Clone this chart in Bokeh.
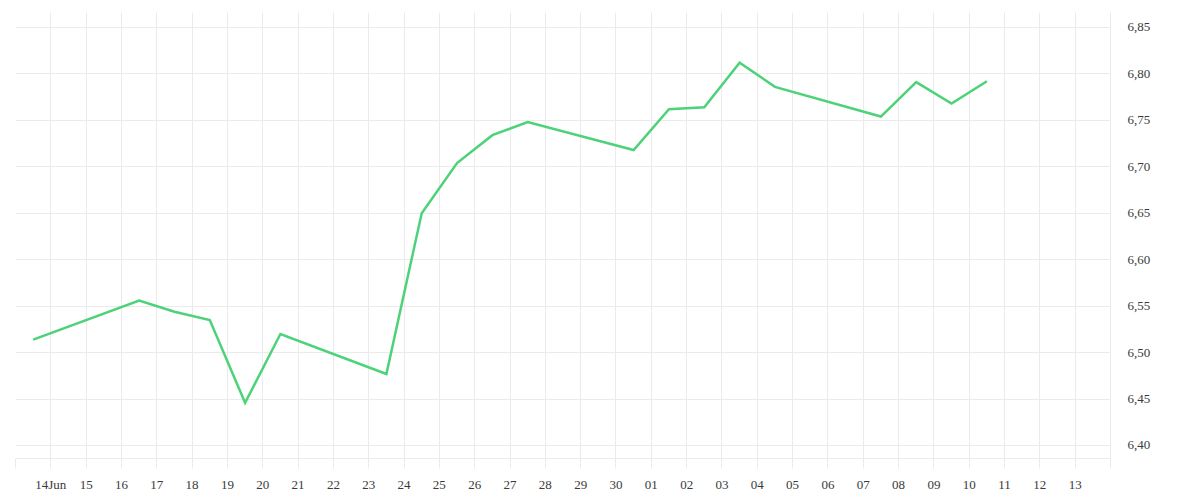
from datetime import datetime, timedelta
from bokeh.plotting import figure
from bokeh.models import FixedTicker, CustomJSTickFormatter, Range1d, ColumnDataSource
from bokeh.embed import file_html
from bokeh.resources import INLINE

# ---- data ----
dates = [
    "2025-06-13 12:00", "2025-06-16 12:00", "2025-06-17 12:00", "2025-06-18 12:00",
    "2025-06-19 12:00", "2025-06-20 12:00", "2025-06-23 12:00", "2025-06-24 12:00",
    "2025-06-25 12:00", "2025-06-26 12:00", "2025-06-27 12:00", "2025-06-30 12:00",
    "2025-07-01 12:00", "2025-07-02 12:00", "2025-07-03 12:00", "2025-07-04 12:00",
    "2025-07-07 12:00", "2025-07-08 12:00", "2025-07-09 12:00", "2025-07-10 12:00",
]
values = [
    6.514, 6.556, 6.544, 6.535,
    6.446, 6.520, 6.477, 6.650,
    6.704, 6.734, 6.748, 6.718,
    6.762, 6.764, 6.812, 6.786,
    6.754, 6.791, 6.768, 6.792,
]
x_tick_dates = [
    "2025-06-13", "2025-06-14", "2025-06-15", "2025-06-16", "2025-06-17", "2025-06-18",
    "2025-06-19", "2025-06-20", "2025-06-21", "2025-06-22", "2025-06-23", "2025-06-24",
    "2025-06-25", "2025-06-26", "2025-06-27", "2025-06-28", "2025-06-29", "2025-06-30",
    "2025-07-01", "2025-07-02", "2025-07-03", "2025-07-04", "2025-07-05", "2025-07-06",
    "2025-07-07", "2025-07-08", "2025-07-09", "2025-07-10", "2025-07-11", "2025-07-12",
    "2025-07-13", "2025-07-14",
]
x_tick_labels = [
    "", "14Jun", "15", "16", "17", "18",
    "19", "20", "21", "22", "23", "24",
    "25", "26", "27", "28", "29", "30",
    "01", "02", "03", "04", "05", "06",
    "07", "08", "09", "10", "11", "12",
    "13", "",
]
y_ticks = [6.40, 6.45, 6.50, 6.55, 6.60, 6.65, 6.70, 6.75, 6.80, 6.85]

EPOCH = datetime(1970, 1, 1)
def ms(dt):
    return (dt - EPOCH) / timedelta(milliseconds=1)

xs = [datetime.strptime(d, "%Y-%m-%d %H:%M") for d in dates]
tick_ms = [ms(datetime.strptime(d, "%Y-%m-%d")) for d in x_tick_dates]

src = ColumnDataSource(dict(x=xs, y=values))

GRID = "#ebebeb"
FONT = "Liberation Serif"
TXT = "#3a3a3a"

p = figure(
    x_axis_type="datetime", y_axis_location="right",
    frame_width=1095, frame_height=446,
    min_border_left=15, min_border_top=12, min_border_right=70, min_border_bottom=30,
    output_backend="svg", toolbar_location=None,
    x_range=Range1d(tick_ms[0], tick_ms[-1]),
    y_range=Range1d(6.386, 6.866),
)
p.outline_line_color = None
p.background_fill_color = "white"
p.border_fill_color = "white"

p.line("x", "y", source=src, line_color="#4dd27a", line_width=2.5, line_join="miter")

# x axis
xa = p.xaxis[0]
xa.ticker = FixedTicker(ticks=tick_ms, minor_ticks=[])
xa.formatter = CustomJSTickFormatter(
    args=dict(tvals=tick_ms, tlabels=x_tick_labels),
    code="""
    for (let i = 0; i < tvals.length; i++) {
        if (Math.abs(tvals[i] - tick) < 1) return tlabels[i];
    }
    return "";
    """,
)
xa.axis_line_color = GRID
xa.major_tick_line_color = GRID
xa.major_tick_out = 10
xa.major_tick_in = 0
xa.minor_tick_line_color = None
xa.major_label_standoff = 8
xa.major_label_text_font = FONT
xa.major_label_text_font_size = "13px"
xa.major_label_text_color = TXT

# y axis (right)
ya = p.yaxis[0]
ya.ticker = FixedTicker(ticks=y_ticks, minor_ticks=[])
ya.formatter = CustomJSTickFormatter(code="return tick.toFixed(2).replace('.', ',');")
ya.axis_line_color = GRID
ya.major_tick_line_color = None
ya.major_tick_out = 0
ya.major_tick_in = 0
ya.minor_tick_line_color = None
ya.major_label_standoff = 17
ya.major_label_text_font = FONT
ya.major_label_text_font_size = "13px"
ya.major_label_text_color = TXT

p.xgrid.ticker = FixedTicker(ticks=tick_ms)
p.ygrid.ticker = FixedTicker(ticks=y_ticks)
p.xgrid.grid_line_color = GRID
p.ygrid.grid_line_color = GRID

open("out.html", "w").write(file_html(p, INLINE))
